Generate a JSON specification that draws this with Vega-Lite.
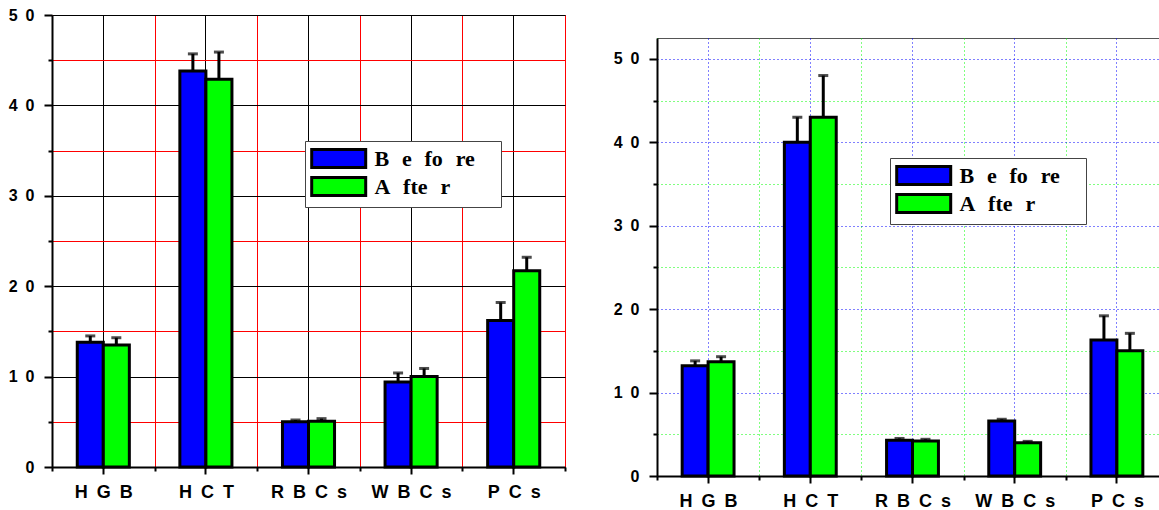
{
  "$schema": "https://vega.github.io/schema/vega-lite/v6.json",
  "background": "white",
  "padding": {"left": 7, "top": 6, "right": 0, "bottom": 0},
  "spacing": 45,
  "datasets": {
    "left": [
      {"test": "HGB", "group": "Before", "value": 13.8, "upper": 14.5},
      {"test": "HGB", "group": "After", "value": 13.5, "upper": 14.3},
      {"test": "HCT", "group": "Before", "value": 43.8, "upper": 45.7},
      {"test": "HCT", "group": "After", "value": 42.9, "upper": 45.9},
      {"test": "RBCs", "group": "Before", "value": 5.0, "upper": 5.2},
      {"test": "RBCs", "group": "After", "value": 5.05, "upper": 5.35},
      {"test": "WBCs", "group": "Before", "value": 9.4, "upper": 10.4},
      {"test": "WBCs", "group": "After", "value": 10.0, "upper": 10.9},
      {"test": "PCs", "group": "Before", "value": 16.2, "upper": 18.2},
      {"test": "PCs", "group": "After", "value": 21.7, "upper": 23.2}
    ],
    "right": [
      {"test": "HGB", "group": "Before", "value": 13.2, "upper": 13.8},
      {"test": "HGB", "group": "After", "value": 13.7, "upper": 14.3},
      {"test": "HCT", "group": "Before", "value": 40.0, "upper": 43.0},
      {"test": "HCT", "group": "After", "value": 43.0, "upper": 48.0},
      {"test": "RBCs", "group": "Before", "value": 4.3, "upper": 4.5},
      {"test": "RBCs", "group": "After", "value": 4.2, "upper": 4.4},
      {"test": "WBCs", "group": "Before", "value": 6.6, "upper": 6.8},
      {"test": "WBCs", "group": "After", "value": 4.0, "upper": 4.15},
      {"test": "PCs", "group": "Before", "value": 16.3, "upper": 19.2},
      {"test": "PCs", "group": "After", "value": 15.0, "upper": 17.1}
    ],
    "spacer": [{"blank": 0}]
  },
  "resolve": {
    "scale": {"x": "independent", "y": "independent", "xOffset": "independent", "color": "independent"},
    "axis": {"x": "independent", "y": "independent"},
    "legend": {"color": "independent"}
  },
  "hconcat": [
    {
      "width": 513,
      "height": 452,
      "data": {"name": "left"},
      "resolve": {"axis": {"x": "independent"}},
      "layer": [
        {
          "mark": {"type": "bar", "stroke": "black", "strokeWidth": 3},
          "encoding": {
            "x": {"field": "test", "type": "nominal", "sort": ["HGB", "HCT", "RBCs", "WBCs", "PCs"],
              "scale": {"paddingInner": 0, "paddingOuter": 0},
              "axis": {"orient": "bottom", "tickBand": "extent", "grid": true, "gridColor": "red", "gridWidth": 1,
                "tickSize": 4, "tickWidth": 2, "tickColor": "black", "domainColor": "black", "domainWidth": 2,
                "labelExpr": "join(split(datum.label, ''), '\u2002')", "labelFont": "Liberation Sans", "labelFontWeight": "bold",
                "labelFontSize": 18, "labelColor": "black", "labelPadding": 12, "labelAngle": 0, "title": null}},
            "xOffset": {"field": "group", "type": "nominal", "sort": ["Before", "After"], "scale": {"paddingInner": 0, "paddingOuter": 0.97}},
            "y": {"field": "value", "type": "quantitative", "scale": {"domain": [0, 50], "nice": false},
              "axis": {"values": [0, 5, 10, 15, 20, 25, 30, 35, 40, 45, 50], "grid": true,
                "gridColor": {"condition": {"test": "datum.value % 10 === 0", "value": "black"}, "value": "red"}, "gridWidth": 1,
                "tickSize": {"condition": {"test": "datum.value % 10 === 0", "value": 8}, "value": 4},
                "tickWidth": 2, "tickColor": "black", "domainColor": "black", "domainWidth": 2,
                "labelExpr": "datum.value % 10 === 0 ? join(split(datum.label, ''), '\u2002') : ''",
                "labelFont": "Liberation Sans", "labelFontWeight": "bold", "labelFontSize": 16, "labelColor": "black",
                "labelPadding": 10, "title": null}},
            "color": {"field": "group", "type": "nominal",
              "scale": {"domain": ["Before", "After"], "range": ["#0000FF", "#00FF00"]},
              "legend": {"orient": "none", "legendX": 253, "legendY": 126, "title": null,
                "symbolType": "M-1,-0.833H4V0.833H-1Z", "symbolSize": 466.6, "symbolStrokeColor": "black", "symbolStrokeWidth": 3,
                "symbolOpacity": 1,
                "labelExpr": "datum.label === 'Before' ? 'B\u2002\u200ae\u2002\u200afo\u2002\u200are\u2009\u2800' : 'A\u2002\u200afte\u2002\u200ar'",
                "labelFont": "Liberation Serif", "labelFontSize": 22, "labelFontWeight": "bold", "labelColor": "black",
                "labelOffset": 39.4, "rowPadding": -3, "padding": 5, "strokeColor": "#444", "fillColor": "white"}}
          }
        },
        {
          "mark": {"type": "rule", "color": "black", "strokeWidth": 3},
          "encoding": {
            "x": {"field": "test", "type": "nominal", "sort": ["HGB", "HCT", "RBCs", "WBCs", "PCs"],
              "axis": {"orient": "bottom", "tickBand": "center", "grid": true, "gridColor": "black", "gridWidth": 1,
                "labels": false, "domain": false, "tickSize": 7, "tickWidth": 2, "tickColor": "black", "title": null}},
            "xOffset": {"field": "group", "type": "nominal", "sort": ["Before", "After"]},
            "y": {"field": "value", "type": "quantitative"},
            "y2": {"field": "upper"}
          }
        },
        {
          "mark": {"type": "tick", "orient": "horizontal", "color": "black", "size": 10, "thickness": 3},
          "encoding": {
            "x": {"field": "test", "type": "nominal", "sort": ["HGB", "HCT", "RBCs", "WBCs", "PCs"], "axis": null},
            "xOffset": {"field": "group", "type": "nominal", "sort": ["Before", "After"]},
            "y": {"field": "upper", "type": "quantitative"}
          }
        }
      ]
    },
    {
      "spacing": 12,
      "vconcat": [
        {
          "width": 1,
          "height": 10,
          "data": {"name": "spacer"},
          "view": {"stroke": null},
          "mark": {"type": "point", "opacity": 0},
          "encoding": {}
        },
        {
          "width": 511,
          "height": 438,
          "data": {"name": "right"},
          "resolve": {"axis": {"x": "independent"}},
          "layer": [
            {
              "mark": {"type": "bar", "stroke": "black", "strokeWidth": 3},
              "encoding": {
                "x": {"field": "test", "type": "nominal", "sort": ["HGB", "HCT", "RBCs", "WBCs", "PCs"],
                  "scale": {"paddingInner": 0, "paddingOuter": 0},
                  "axis": {"orient": "bottom", "tickBand": "extent", "grid": true, "gridColor": "#00FF00", "gridWidth": 1, "gridDash": [1, 3],
                    "tickSize": 4, "tickWidth": 2, "tickColor": "black", "domainColor": "black", "domainWidth": 2,
                    "labelExpr": "join(split(datum.label, ''), '\u2002')", "labelFont": "Liberation Sans", "labelFontWeight": "bold",
                    "labelFontSize": 18, "labelColor": "black", "labelPadding": 12, "labelAngle": 0, "title": null}},
                "xOffset": {"field": "group", "type": "nominal", "sort": ["Before", "After"], "scale": {"paddingInner": 0, "paddingOuter": 0.97}},
                "y": {"field": "value", "type": "quantitative", "scale": {"domain": [0, 52.5], "nice": false},
                  "axis": {"values": [0, 5, 10, 15, 20, 25, 30, 35, 40, 45, 50], "grid": true,
                    "gridColor": {"condition": {"test": "datum.value % 10 === 0", "value": "#0000FF"}, "value": "#00FF00"}, "gridWidth": 1, "gridDash": [1, 3],
                    "tickSize": {"condition": {"test": "datum.value % 10 === 0", "value": 8}, "value": 4},
                    "tickWidth": 2, "tickColor": "black", "domainColor": "black", "domainWidth": 2,
                    "labelExpr": "datum.value % 10 === 0 ? join(split(datum.label, ''), '\u2002') : ''",
                    "labelFont": "Liberation Sans", "labelFontWeight": "bold", "labelFontSize": 16, "labelColor": "black",
                    "labelPadding": 10, "title": null}},
                "color": {"field": "group", "type": "nominal",
                  "scale": {"domain": ["Before", "After"], "range": ["#0000FF", "#00FF00"]},
                  "legend": {"orient": "none", "legendX": 233, "legendY": 143, "title": null,
                    "symbolType": "M-1,-0.833H4V0.833H-1Z", "symbolSize": 466.6, "symbolStrokeColor": "black", "symbolStrokeWidth": 3,
                    "symbolOpacity": 1,
                    "labelExpr": "datum.label === 'Before' ? 'B\u2002\u200ae\u2002\u200afo\u2002\u200are\u2009\u2800' : 'A\u2002\u200afte\u2002\u200ar'",
                    "labelFont": "Liberation Serif", "labelFontSize": 22, "labelFontWeight": "bold", "labelColor": "black",
                    "labelOffset": 39.4, "rowPadding": -3, "padding": 5, "strokeColor": "#444", "fillColor": "white"}}
              }
            },
            {
              "mark": {"type": "rule", "color": "black", "strokeWidth": 3},
              "encoding": {
                "x": {"field": "test", "type": "nominal", "sort": ["HGB", "HCT", "RBCs", "WBCs", "PCs"],
                  "axis": {"orient": "bottom", "tickBand": "center", "grid": true, "gridColor": "#0000FF", "gridWidth": 1, "gridDash": [1, 3],
                    "labels": false, "domain": false, "tickSize": 7, "tickWidth": 2, "tickColor": "black", "title": null}},
                "xOffset": {"field": "group", "type": "nominal", "sort": ["Before", "After"]},
                "y": {"field": "value", "type": "quantitative"},
                "y2": {"field": "upper"}
              }
            },
            {
              "mark": {"type": "tick", "orient": "horizontal", "color": "black", "size": 10, "thickness": 3},
              "encoding": {
                "x": {"field": "test", "type": "nominal", "sort": ["HGB", "HCT", "RBCs", "WBCs", "PCs"], "axis": null},
                "xOffset": {"field": "group", "type": "nominal", "sort": ["Before", "After"]},
                "y": {"field": "upper", "type": "quantitative"}
              }
            }
          ]
        }
      ]
    }
  ],
  "config": {
    "view": {"stroke": "#555", "strokeWidth": 1}
  }
}
